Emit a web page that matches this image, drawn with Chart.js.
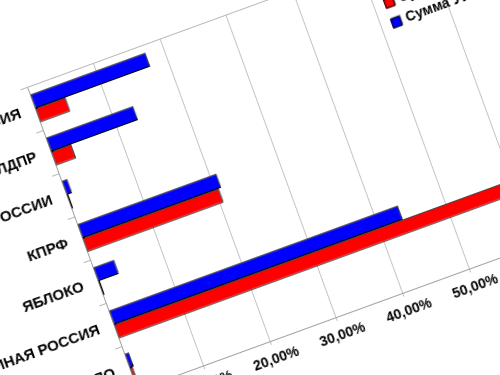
<!DOCTYPE html>
<html><head><meta charset="utf-8">
<script src="https://cdn.jsdelivr.net/npm/chart.js@4.4.0/dist/chart.umd.min.js"></script>
<style>
html,body{margin:0;padding:0;width:500px;height:375px;overflow:hidden;background:#fff;}
#wrap{position:absolute;left:-173px;top:47px;width:725px;height:412px;transform-origin:200px 40px;transform:rotate(-20deg);}
canvas{display:block;}
</style></head><body>
<div id="wrap"><canvas id="c" width="725" height="412"></canvas></div>
<script>
const categories = ["СПРАВЕДЛИВАЯ РОССИЯ","ЛДПР","ПАТРИОТЫ РОССИИ","КПРФ","ЯБЛОКО","ЕДИНАЯ РОССИЯ","ПРАВОЕ ДЕЛО"];
const seriesNames = ["Сумма ЦИК","Сумма УИК"];
const redValues = [4.6, 3.1, 0.3, 20.6, 0.3, 62.0, 0.5];
const blueValues = [17.4, 13.2, 0.9, 21.0, 3.2, 43.6, 0.7];
const tickMax = 70;
const tickStep = 10;

const FONT = "'Liberation Sans', Arial, sans-serif";

const frame = {
  id: 'frame',
  beforeDatasetsDraw(chart) {
    const a = chart.chartArea, ctx = chart.ctx;
    ctx.save();
    ctx.strokeStyle = '#b8b8b8'; ctx.lineWidth = 1;
    ctx.beginPath(); ctx.moveTo(a.left, a.top + 0.5); ctx.lineTo(a.right, a.top + 0.5); ctx.stroke();
    ctx.restore();
    ctx.shadowColor = 'rgba(90,90,90,0.8)';
    ctx.shadowOffsetX = 1;
    ctx.shadowOffsetY = -2;
    ctx.shadowBlur = 0;
  },
  afterDatasetsDraw(chart) {
    const ctx = chart.ctx;
    ctx.shadowColor = 'rgba(0,0,0,0)';
    ctx.shadowOffsetX = 0; ctx.shadowOffsetY = 0;
    const x = chart.scales.x, a = chart.chartArea;
    const items = [
      {label: seriesNames[0], color: '#ff0000', dy: 44.5},
      {label: seriesNames[1], color: '#0000ff', dy: 65.5}
    ];
    ctx.save();
    items.forEach(it => {
      const cx = x.getPixelForValue(52.3), cy = a.top + it.dy;
      ctx.fillStyle = '#808080';
      ctx.fillRect(cx - 4, cy - 6, 10, 10);
      ctx.fillStyle = it.color;
      ctx.fillRect(cx - 5, cy - 5, 10, 10);
      ctx.strokeStyle = '#000'; ctx.lineWidth = 1;
      ctx.strokeRect(cx - 4.5, cy - 4.5, 9, 9);
      ctx.fillStyle = '#000';
      ctx.font = 'bold 14px ' + FONT;
      ctx.textBaseline = 'middle'; ctx.textAlign = 'left';
      ctx.fillText(it.label, x.getPixelForValue(53.8), cy);
    });
    ctx.restore();
  }
};

new Chart(document.getElementById('c'), {
  type: 'bar',
  data: {
    labels: categories,
    datasets: [
      {label: seriesNames[1], data: blueValues, backgroundColor: '#0000ff', borderColor: '#000', borderWidth: 1, borderSkipped: false},
      {label: seriesNames[0], data: redValues, backgroundColor: '#ff0000', borderColor: '#000', borderWidth: 1, borderSkipped: false}
    ]
  },
  options: {
    indexAxis: 'y',
    responsive: false,
    animation: false,
    devicePixelRatio: 1,
    layout: {padding: {left: 0, top: 40, right: 16, bottom: 0}},
    datasets: {bar: {categoryPercentage: 0.64, barPercentage: 1.0}},
    plugins: {legend: {display: false}, tooltip: {enabled: false}},
    scales: {
      x: {
        min: 0, max: tickMax,
        ticks: {stepSize: tickStep, color: '#000', padding: 7, maxRotation: 0,
          font: {family: FONT, size: 14, weight: 'bold'},
          callback: v => v.toFixed(2).replace('.', ',') + '%'},
        grid: {color: '#c4c4c4', lineWidth: 1, tickLength: 4},
        border: {color: '#a0a0a0'},
        afterFit: s => { s.height = 50; }
      },
      y: {
        ticks: {color: '#000', padding: 8, font: {family: FONT, size: 15, weight: 'bold'}},
        grid: {drawOnChartArea: false, tickLength: 7, color: '#b8b8b8'},
        border: {color: '#a0a0a0'},
        afterFit: s => { s.width = 200; }
      }
    }
  },
  plugins: [frame]
});
</script>
</body></html>
